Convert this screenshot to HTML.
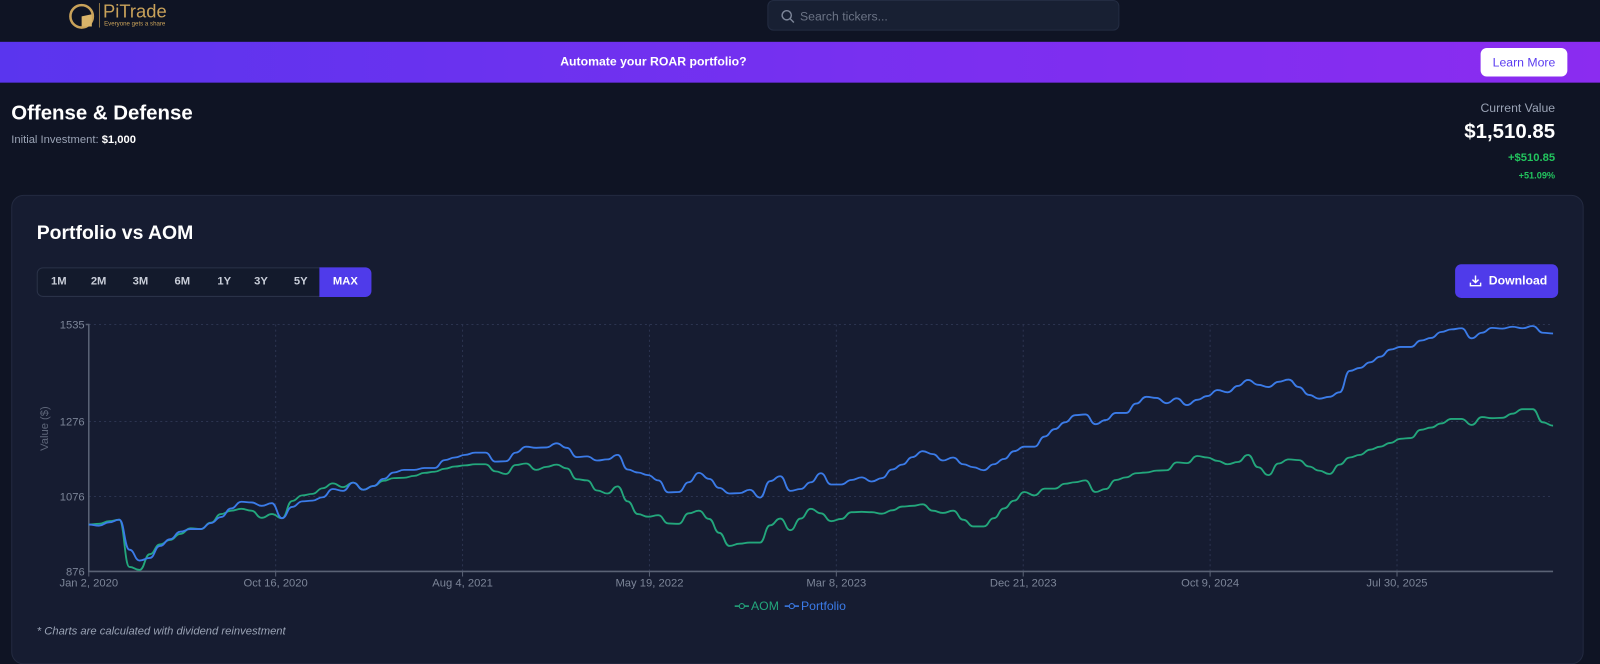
<!DOCTYPE html>
<html><head><meta charset="utf-8">
<style>
*{box-sizing:border-box;margin:0;padding:0}
body{width:1600px;height:642px;overflow:hidden;background:#0f1424;font-family:"Liberation Sans",sans-serif;color:#fff;position:relative}
#root{position:absolute;left:0;top:0;width:1568px;height:630px;transform:scale(1.020408);transform-origin:0 0}
.abs{position:absolute}
</style></head><body>
<div id="root">
<div class="abs" style="left:0;top:0;width:1568px;height:40px;background:#0f1424"></div>
<div class="abs" style="left:66px;top:2px;width:110px;height:28px">
  <svg width="28" height="28" style="position:absolute;left:0;top:0"><circle cx="14" cy="14" r="11" fill="none" stroke="#c9a25a" stroke-width="2.5"/><path d="M14 14 L24 12 L24 24 L14 24 Z" fill="#d9b46a"/></svg>
  <div style="position:absolute;left:31px;top:1px;width:1px;height:24px;background:#8a7145"></div>
  <div style="position:absolute;left:35px;top:-1px;font-size:18px;color:#c9a25a">PiTrade</div>
  <div style="position:absolute;left:36px;top:19px;font-size:6px;color:#c9a25a">Everyone gets a share</div>
</div>
<div class="abs" style="left:752px;top:0;width:345px;height:30px;background:#182033;border:1px solid #232c42;border-radius:6px">
  <svg width="14" height="14" style="position:absolute;left:12px;top:8px"><circle cx="6" cy="6" r="4.5" fill="none" stroke="#7c8598" stroke-width="1.4"/><line x1="9.5" y1="9.5" x2="13" y2="13" stroke="#7c8598" stroke-width="1.4"/></svg>
  <div style="position:absolute;left:31px;top:8px;font-size:12px;color:#6b7385">Search tickers...</div>
</div>
<div class="abs" style="left:0;top:41px;width:1568px;height:40px;background:linear-gradient(90deg,#5a35ee,#7b2ff0 60%,#8b2cf0)">
  <div style="position:absolute;left:549px;top:12px;font-size:12px;font-weight:bold">Automate your ROAR portfolio?</div>
  <div style="position:absolute;left:1451px;top:6px;width:85px;height:28px;background:#fff;border-radius:6px;color:#5b3df0;font-size:12px;text-align:center;line-height:28px">Learn More</div>
</div>
<div class="abs" style="left:11px;top:100px;font-size:20px;font-weight:bold">Offense &amp; Defense</div>
<div class="abs" style="left:11px;top:131px;font-size:11px;color:#9aa3b5">Initial Investment: <b style="color:#fff">$1,000</b></div>
<div class="abs" style="right:44px;top:99px;font-size:12px;color:#9aa3b5">Current Value</div>
<div class="abs" style="right:44px;top:118px;font-size:20px;font-weight:bold">$1,510.85</div>
<div class="abs" style="right:44px;top:149px;font-size:11px;font-weight:bold;color:#22c55e">+$510.85</div>
<div class="abs" style="right:44px;top:167px;font-size:9px;font-weight:bold;color:#22c55e">+51.09%</div>
<div class="abs" style="left:11px;top:191px;width:1541px;height:460px;background:#161c31;border:1px solid #232a40;border-radius:12px"></div>
<div class="abs" style="left:36px;top:218px;font-size:19px;font-weight:bold">Portfolio vs AOM</div>
<div class="abs" style="left:36px;top:262px;width:328px;height:29px;border:1px solid #2a3248;border-radius:6px;background:#131a2c;font-size:11px;font-weight:bold;color:#c8cdd8">
  <span style="position:absolute;left:13px;top:7px">1M</span>
  <span style="position:absolute;left:52px;top:7px">2M</span>
  <span style="position:absolute;left:93px;top:7px">3M</span>
  <span style="position:absolute;left:134px;top:7px">6M</span>
  <span style="position:absolute;left:176px;top:7px">1Y</span>
  <span style="position:absolute;left:212px;top:7px">3Y</span>
  <span style="position:absolute;left:251px;top:7px">5Y</span>
  <span style="position:absolute;left:276px;top:-1px;width:51px;height:29px;background:#4f3bea;border-radius:0 6px 6px 0;color:#fff;text-align:center;line-height:29px">MAX</span>
</div>
<div class="abs" style="left:1426px;top:259px;width:101px;height:33px;background:#4f3bea;border-radius:6px;font-size:12px;font-weight:bold;line-height:33px">
  <svg width="12" height="12" style="position:absolute;left:14px;top:10px"><path d="M6 1 V8 M3 5 L6 8 L9 5 M1 8 V11 H11 V8" fill="none" stroke="#fff" stroke-width="1.4"/></svg>
  <span style="position:absolute;left:33px">Download</span>
</div>
<svg id="chart" class="abs" style="left:0;top:0" width="1568" height="630"></svg>
<div class="abs" style="left:36px;top:613px;font-size:11px;font-style:italic;color:#9aa3b5">* Charts are calculated with dividend reinvestment</div>
</div>
<script>
const stepDays = 15.67;
const tickDays = [0,288,576,864,1152,1440,1728,2016];
const tickLabels = ["Jan 2, 2020","Oct 16, 2020","Aug 4, 2021","May 19, 2022","Mar 8, 2023","Dec 21, 2023","Oct 9, 2024","Jul 30, 2025"];
const yTicks = [876,1076,1276,1535];
const portfolio = [1001,998,1007,1014,934,905,912,944,962,982,989,989,1005,1021,1044,1062,1060,1051,1058,1018,1048,1063,1065,1074,1096,1091,1113,1094,1104,1123,1140,1147,1147,1152,1152,1173,1180,1187,1193,1193,1169,1170,1193,1209,1206,1207,1218,1206,1181,1183,1172,1175,1187,1148,1140,1133,1119,1087,1088,1114,1139,1123,1099,1084,1085,1094,1073,1117,1130,1091,
1096,1114,1138,1108,1108,1120,1127,1116,1125,1148,1161,1181,1197,1189,1172,1180,1162,1154,1146,1162,1176,1197,1209,1209,1236,1256,1274,1293,1295,1269,1280,1299,1299,1324,1342,1339,1325,1338,1320,1334,1344,1360,1354,1371,1387,1374,1368,1382,1388,1368,1347,1337,1342,1354,1411,1419,1434,1449,1468,1475,1475,1492,1499,1515,1522,1525,1498,1513,1526,1524,1529,1525,1531,1513,1511];
const aom = [1001,1003,1010,1014,888,880,922,948,960,976,991,989,1006,1029,1038,1043,1038,1019,1029,1018,1064,1079,1083,1098,1111,1101,1113,1094,1104,1118,1125,1126,1131,1139,1142,1150,1156,1159,1162,1162,1143,1136,1160,1164,1147,1155,1161,1151,1122,1119,1092,1084,1103,1063,1029,1022,1026,1004,1003,1031,1038,1016,979,944,950,953,953,999,1017,986,
1017,1043,1031,1010,1016,1034,1035,1034,1030,1039,1049,1051,1055,1038,1032,1038,1014,996,996,1018,1044,1065,1088,1079,1097,1097,1110,1114,1119,1088,1096,1120,1127,1138,1140,1145,1146,1167,1165,1184,1180,1171,1162,1168,1187,1154,1133,1164,1175,1173,1156,1145,1136,1161,1180,1187,1201,1209,1219,1230,1232,1254,1260,1271,1283,1283,1267,1288,1285,1286,1297,1309,1309,1274,1265];

const NS="http://www.w3.org/2000/svg";
const svg=document.getElementById('chart');
const X0=87,X1=1522,Y0=560,Y1=318,VMIN=876,VMAX=1535;
const totalDays=(portfolio.length-1)*stepDays;
const xd=d=>X0+d/totalDays*(X1-X0);
const xi=i=>xd(i*stepDays);
const y=v=>Y0-(v-VMIN)/(VMAX-VMIN)*(Y0-Y1);
function mk(tag,attrs){const e=document.createElementNS(NS,tag);for(const k in attrs)e.setAttribute(k,attrs[k]);svg.appendChild(e);return e;}
yTicks.forEach(v=>{
  const g=mk('line',{x1:X0,x2:X1,y1:y(v),y2:y(v),stroke:'#2c3450','stroke-dasharray':'2,3'});
  
  
  const t=mk('text',{x:X0-4,y:y(v)+4,'text-anchor':'end',fill:'#7c8598','font-size':11,'font-family':'Liberation Sans, sans-serif'});
  t.textContent=v;
  
  
});
tickDays.forEach((d,i)=>{
  const g=mk('line',{x1:xd(d),x2:xd(d),y1:Y1,y2:Y0,stroke:'#2c3450','stroke-dasharray':'2,3'});
  
  
  mk('line',{x1:xd(d),x2:xd(d),y1:Y0,y2:Y0+5,stroke:'#5a6275'});
  const t=mk('text',{x:xd(d),y:Y0+15,'text-anchor':'middle',fill:'#7c8598','font-size':11,'font-family':'Liberation Sans, sans-serif'});
  t.textContent=tickLabels[i];
  
  
});
const ax=mk('path',{d:`M${X0-3} ${Y1}H${X0}V${Y0}H${X1}`,fill:'none',stroke:'#5a6275','stroke-width':1.5});


const yt=mk('text',{x:0,y:0,transform:'translate(47,420) rotate(-90)','text-anchor':'middle',fill:'#5f677a','font-size':11,'font-family':'Liberation Sans, sans-serif'});
yt.textContent='Value ($)';


function line(arr,color,name){
  const p=arr.map((v,i)=>[xi(i),y(v)]);
  let d=`M${p[0][0]} ${p[0][1]}`;
  for(let i=1;i<p.length;i++){const a=p[i-1],b=p[i],m=(a[0]+b[0])/2;d+=` C${m} ${a[1]} ${m} ${b[1]} ${b[0]} ${b[1]}`;}
  const e=mk('path',{d:d,fill:'none',stroke:color,'stroke-width':1.8});
  
  
}
line(aom,'#23a77c','aom-line');
line(portfolio,'#3b7be8','portfolio-line');
function legend(x,color,label,name){
  const g=document.createElementNS(NS,'g');svg.appendChild(g);
  
  
  const l=document.createElementNS(NS,'line');l.setAttribute('x1',x);l.setAttribute('x2',x+14);l.setAttribute('y1',594);l.setAttribute('y2',594);l.setAttribute('stroke',color);l.setAttribute('stroke-width',1.5);g.appendChild(l);
  const c=document.createElementNS(NS,'circle');c.setAttribute('cx',x+7);c.setAttribute('cy',594);c.setAttribute('r',2.5);c.setAttribute('fill','#161c31');c.setAttribute('stroke',color);g.appendChild(c);
  const t=document.createElementNS(NS,'text');t.setAttribute('x',x+16);t.setAttribute('y',598);t.setAttribute('fill',color);t.setAttribute('font-size',12);t.setAttribute('font-family','Liberation Sans, sans-serif');t.textContent=label;g.appendChild(t);
}
legend(720,'#23a77c','AOM','legend-aom');
legend(769,'#3b7be8','Portfolio','legend-portfolio');
</script>
</body></html>
